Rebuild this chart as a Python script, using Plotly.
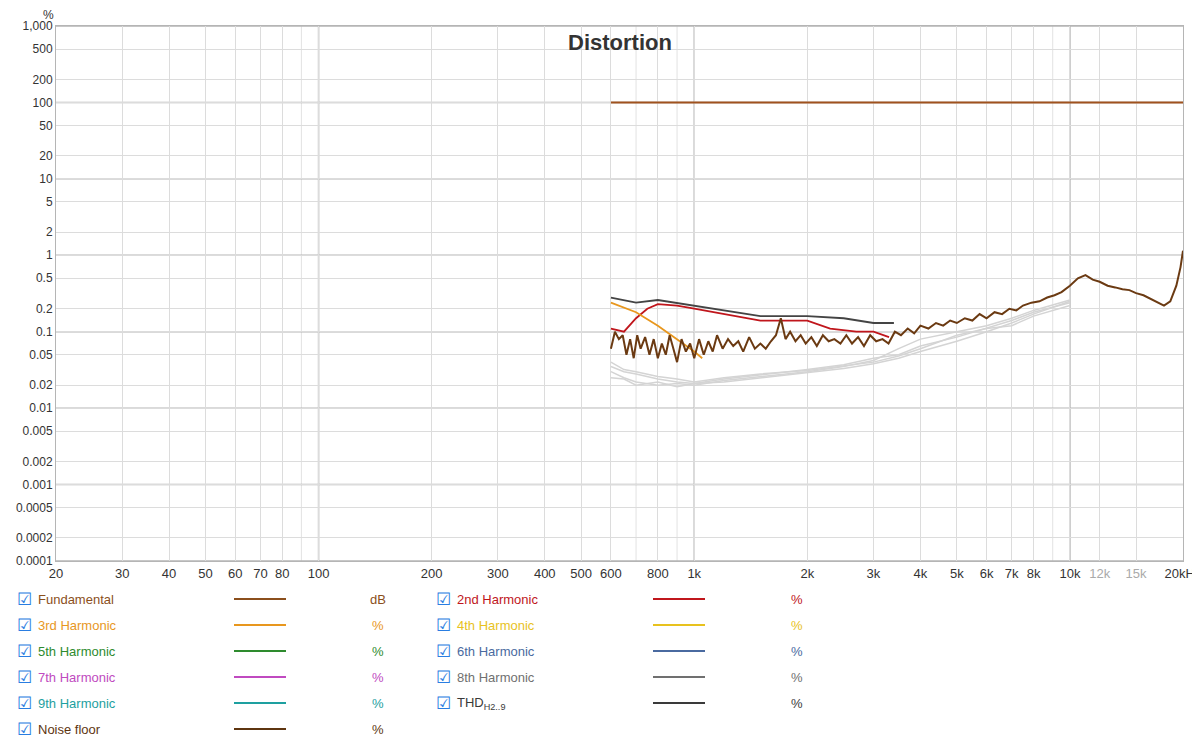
import plotly.graph_objects as go

noise_f = [600,615,630,645,660,675,690,705,720,740,760,780,800,820,840,860,880,900,925,950,
           975,1000,1030,1060,1090,1120,1150,1190,1230,1270,1310,1350,1400,1450,1500,1550,1600,1650,1700,1750,
           1800,1860,1920,1980,2050,2120,2200,2280,2360,2450,2540,2630,2730,2830,2940,3050,3170,3290,3420,3550,
           3700,3850,4000,4200,4400,4600,4800,5000,5250,5500,5750,6000,6300,6600,6900,7200,7500,7900,8300,8700,
           9100,9500,10000,10500,11000,11500,12000,12600,13200,13800,14400,15000,15700,16400,17100,17800,18500,19200,19700,20000]
noise_v = [0.06,0.1,0.08,0.09,0.05,0.08,0.045,0.09,0.06,0.085,
           0.05,0.08,0.045,0.07,0.05,0.09,0.06,0.04,0.08,0.055,
           0.07,0.045,0.08,0.05,0.075,0.055,0.09,0.06,0.08,0.065,
           0.075,0.055,0.085,0.06,0.07,0.06,0.075,0.09,0.15,0.08,
           0.1,0.075,0.09,0.07,0.085,0.065,0.09,0.075,0.08,0.07,
           0.09,0.07,0.085,0.065,0.09,0.075,0.08,0.07,0.1,0.09,
           0.11,0.095,0.12,0.11,0.13,0.12,0.14,0.13,0.15,0.14,
           0.17,0.15,0.18,0.17,0.2,0.19,0.22,0.24,0.25,0.28,
           0.3,0.33,0.4,0.5,0.55,0.48,0.45,0.4,0.38,0.36,
           0.35,0.32,0.3,0.27,0.24,0.22,0.25,0.4,0.7,1.15]

fund_f = [600, 20000]
fund_v = [100, 100]

h2_f = [600,650,700,750,800,900,1000,1200,1500,2000,2300,2700,3000,3300]
h2_v = [0.11,0.1,0.15,0.2,0.23,0.22,0.2,0.17,0.14,0.14,0.11,0.1,0.1,0.085]

thd_f = [600,700,800,1000,1300,1500,2000,2500,3000,3400]
thd_v = [0.28,0.24,0.26,0.22,0.18,0.16,0.16,0.15,0.13,0.13]

h3_f = [600,700,800,900,1000,1050]
h3_v = [0.24,0.18,0.12,0.08,0.055,0.045]

g_f = [600,650,700,800,900,1000,1200,1500,2000,2500,3000,3500,4000,5000,6000,7000,8000,10000]
h4_v = [0.035,0.03,0.028,0.024,0.022,0.021,0.022,0.025,0.029,0.033,0.038,0.045,0.055,0.075,0.1,0.13,0.17,0.25]
h5_v = [0.03,0.025,0.022,0.02,0.021,0.02,0.023,0.026,0.03,0.035,0.042,0.06,0.08,0.1,0.12,0.15,0.19,0.26]
h6_v = [0.025,0.024,0.02,0.022,0.019,0.021,0.024,0.027,0.032,0.037,0.045,0.05,0.065,0.085,0.11,0.14,0.18,0.24]
h7_v = [0.04,0.032,0.03,0.026,0.024,0.022,0.025,0.028,0.031,0.036,0.04,0.048,0.06,0.09,0.11,0.12,0.16,0.22]

x_tickvals = [20,30,40,50,60,70,80,100,200,300,400,500,600,800,1000,2000,3000,4000,5000,6000,7000,8000,10000,12000,15000,20000]
x_ticktext = ["20","30","40","50","60","70","80","100","200","300","400","500","600","800","1k","2k","3k","4k","5k","6k","7k","8k","10k",
              "<span style='color:#aaa'>12k</span>","<span style='color:#aaa'>15k</span>","20kHz"]
y_tickvals = [1000,500,200,100,50,20,10,5,2,1,0.5,0.2,0.1,0.05,0.02,0.01,0.005,0.002,0.001,0.0005,0.0002,0.0001]
y_ticktext = ["1,000","500","200","100","50","20","10","5","2","1","0.5","0.2","0.1","0.05","0.02","0.01","0.005","0.002","0.001","0.0005","0.0002","0.0001"]

legend_items = [("Fundamental","#8b4f1c","dB"),("2nd Harmonic","#c0161c","%"),
                ("3rd Harmonic","#e8971e","%"),("4th Harmonic","#e8c21e","%"),
                ("5th Harmonic","#2e8b2e","%"),("6th Harmonic","#4a6aa0","%"),
                ("7th Harmonic","#c04ac0","%"),("8th Harmonic","#707070","%"),
                ("9th Harmonic","#1ea0a0","%"),("THD<sub>H2..9</sub>","#3a3a3a","%"),
                ("Noise floor","#5e3510","%")]

fig = go.Figure()
for v in [h4_v, h5_v, h6_v, h7_v]:
    fig.add_trace(go.Scatter(x=g_f, y=v, mode="lines", line=dict(color="#d4d4d4", width=1.5)))
fig.add_trace(go.Scatter(x=fund_f, y=fund_v, mode="lines", line=dict(color="#a0521e", width=2)))
fig.add_trace(go.Scatter(x=thd_f, y=thd_v, mode="lines", line=dict(color="#444444", width=1.8)))
fig.add_trace(go.Scatter(x=h2_f, y=h2_v, mode="lines", line=dict(color="#c0161c", width=1.8)))
fig.add_trace(go.Scatter(x=h3_f, y=h3_v, mode="lines", line=dict(color="#e8971e", width=1.8)))
fig.add_trace(go.Scatter(x=noise_f, y=noise_v, mode="lines", line=dict(color="#6b3a12", width=2)))

minor_x = [90,700,900,9000]
for mx in minor_x:
    fig.add_shape(type="line", xref="x", yref="paper", x0=mx, x1=mx, y0=0, y1=1,
                  line=dict(color="#e2e2e2", width=1), layer="below")
for dx in [100,1000,10000]:
    fig.add_shape(type="line", xref="x", yref="paper", x0=dx, x1=dx, y0=0, y1=1,
                  line=dict(color="#b5b5b5", width=1.5), layer="below")
for dy in [1000,100,10,1,0.1,0.01,0.001,0.0001]:
    fig.add_shape(type="line", xref="paper", yref="y", x0=0, x1=1, y0=dy, y1=dy,
                  line=dict(color="#b5b5b5", width=1.5), layer="below")

def px(xp): return (xp - 48) / 1127
def py(yp): return 1 - (yp - 18) / 535

ann = []
ann.append(dict(text="<b>Distortion</b>", xref="paper", yref="paper", x=px(612), y=py(34),
                showarrow=False, font=dict(size=22, color="#333"), xanchor="center", yanchor="middle"))
ann.append(dict(text="%", xref="paper", yref="paper", x=px(40), y=py(7),
                showarrow=False, font=dict(size=12, color="#333"), xanchor="center", yanchor="middle"))

col_x = [8, 427]
for i, (name, color, unit) in enumerate(legend_items):
    col = i % 2
    row = i // 2
    ypx = 591 + row * 26
    bx = col_x[col]
    ypap = py(ypx)
    ann.append(dict(text="☑", xref="paper", yref="paper", x=px(bx + 8), y=ypap, showarrow=False,
                    font=dict(size=17, color="#2a7de1"), xanchor="center", yanchor="middle"))
    ann.append(dict(text=name, xref="paper", yref="paper", x=px(bx + 20), y=ypap, showarrow=False,
                    font=dict(size=13, color=color), xanchor="left", yanchor="middle"))
    ann.append(dict(text=unit, xref="paper", yref="paper", x=px(bx + 362), y=ypap, showarrow=False,
                    font=dict(size=13, color=color), xanchor="center", yanchor="middle"))
    fig.add_shape(type="line", xref="paper", yref="paper", x0=px(bx + 218), x1=px(bx + 270),
                  y0=ypap, y1=ypap, line=dict(color=color, width=2))

fig.update_layout(
    width=1200, height=740, showlegend=False,
    margin=dict(l=48, r=25, t=18, b=187, autoexpand=False),
    paper_bgcolor="white", plot_bgcolor="white",
    font=dict(family="Liberation Sans, Arial", size=13, color="#333"),
    annotations=ann,
)
fig.update_xaxes(type="log", range=[1.30103, 4.30103], tickvals=x_tickvals, ticktext=x_ticktext,
                 showgrid=True, gridcolor="#dcdcdc", gridwidth=1, zeroline=False, ticks="", automargin=False,
                 showline=True, linecolor="#b5b5b5", mirror=True, tickfont=dict(size=13, color="#333"))
fig.update_yaxes(type="log", range=[-4, 3], tickvals=y_tickvals, ticktext=y_ticktext, automargin=False,
                 showgrid=True, gridcolor="#dcdcdc", gridwidth=1, zeroline=False, ticks="",
                 showline=True, linecolor="#b5b5b5", mirror=True, tickfont=dict(size=12, color="#333"))

fig.write_html("out.html")
